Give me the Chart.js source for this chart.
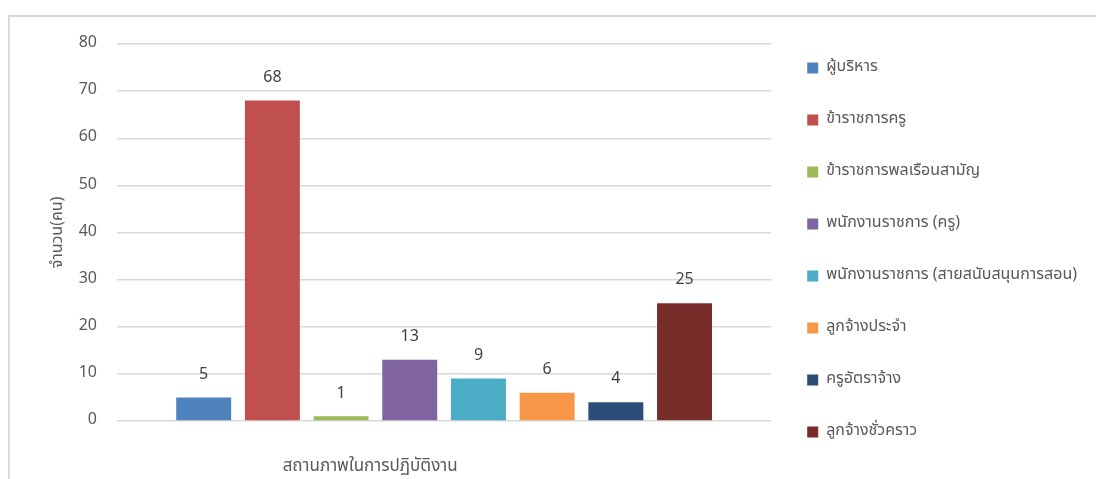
<!DOCTYPE html>
<html>
<head>
<meta charset="utf-8">
<script src="https://cdn.jsdelivr.net/npm/chart.js@4/dist/chart.umd.min.js"></script>
<style>
  html, body { margin: 0; padding: 0; background: #fff; overflow: hidden; }
  #frame { position: absolute; left: 8px; top: 15px; width: 1100px; height: 500px; border: 2px solid #d9d9d9; box-sizing: border-box; }
  #wrap { position: absolute; left: 0; top: 0; width: 1096px; height: 500px; }
</style>
</head>
<body>
<div id="frame"></div>
<div id="wrap"><canvas id="myChart"></canvas></div>
<script>
var categories = ['สถานภาพในการปฏิบัติงาน'];
var seriesNames = [
  'ผู้บริหาร',
  'ข้าราชการครู',
  'ข้าราชการพลเรือนสามัญ',
  'พนักงานราชการ (ครู)',
  'พนักงานราชการ (สายสนับสนุนการสอน)',
  'ลูกจ้างประจำ',
  'ครูอัตราจ้าง',
  'ลูกจ้างชั่วคราว'
];
var seriesValues = [5, 68, 1, 13, 9, 6, 4, 25];
var seriesColors = ['#4F81BD', '#C0504D', '#9BBB59', '#8064A2', '#4BACC6', '#F79646', '#2C4D75', '#772C2A'];
var yTicks = [0, 10, 20, 30, 40, 50, 60, 70, 80];

var fontFamily = "'Noto Sans Thai', 'Noto Sans', sans-serif";
var textColor = '#595959';

// value labels above each bar
var valueLabels = {
  id: 'valueLabels',
  afterDatasetsDraw: function(chart) {
    var ctx = chart.ctx;
    ctx.save();
    ctx.font = '16px ' + fontFamily;
    ctx.fillStyle = '#404040';
    ctx.textAlign = 'center';
    ctx.textBaseline = 'middle';
    chart.data.datasets.forEach(function(ds, i) {
      var meta = chart.getDatasetMeta(i);
      meta.data.forEach(function(bar, j) {
        ctx.fillText(ds.data[j], bar.x, bar.y - 22);
      });
    });
    ctx.restore();
  }
};

var datasets = seriesNames.map(function(name, i) {
  return {
    label: name,
    data: [seriesValues[i]],
    backgroundColor: seriesColors[i],
    barPercentage: 0.8,
    categoryPercentage: 0.84
  };
});

var myChartObject = document.getElementById('myChart');
var chart = new Chart(myChartObject, {
  type: 'bar',
  data: { labels: categories, datasets: datasets },
  plugins: [valueLabels],
  options: {
    responsive: true,
    maintainAspectRatio: false,
    animation: false,
    layout: { padding: { left: 0, right: 9, top: 0, bottom: 0 } },
    plugins: {
      tooltip: { enabled: false },
      title: {
        display: true,
        text: '',
        fullSize: false,
        padding: { top: 26, bottom: 0 },
        font: { size: 15, family: fontFamily }
      },
      legend: {
        position: 'right',
        align: 'center',
        maxWidth: 400,
        labels: {
          boxWidth: 11,
          boxHeight: 11,
          padding: 36,
          color: textColor,
          font: { size: 16, family: fontFamily }
        }
      }
    },
    scales: {
      x: {
        grid: { display: false, drawTicks: false },
        border: { display: false },
        afterFit: function(axis) { axis.height = 79; },
        ticks: {
          color: textColor,
          padding: 36,
          labelOffset: -74,
          font: { size: 17, family: fontFamily }
        }
      },
      y: {
        min: 0,
        max: 80,
        afterBuildTicks: function(axis) {
          axis.ticks = yTicks.map(function(v) { return { value: v }; });
        },
        afterFit: function(axis) { axis.width = 117; },
        grid: { color: '#d9d9d9', lineWidth: 1.5, drawTicks: false },
        border: { display: false },
        ticks: {
          color: textColor,
          padding: 20,
          font: { size: 16, family: fontFamily }
        },
        title: {
          display: true,
          text: 'จำนวน(คน)',
          color: textColor,
          padding: { top: 49, bottom: 0 },
          font: { size: 16, family: fontFamily }
        }
      }
    }
  }
});
</script>
</body>
</html>
